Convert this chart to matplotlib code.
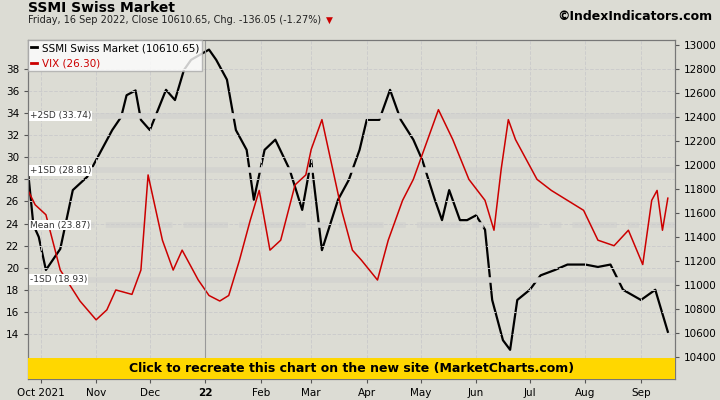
import numpy as np
import pandas as pd
import matplotlib
matplotlib.use("Agg")
import matplotlib.pyplot as plt
from matplotlib.patches import Rectangle
from matplotlib.lines import Line2D

ssmi_dates = ["2021-09-24","2021-09-27","2021-09-30","2021-10-04","2021-10-12","2021-10-19","2021-10-27",
    "2021-11-01","2021-11-10","2021-11-15","2021-11-18","2021-11-23","2021-11-26","2021-12-01","2021-12-10",
    "2021-12-15","2021-12-20","2021-12-24","2022-01-03","2022-01-07","2022-01-13","2022-01-18","2022-01-24",
    "2022-01-28","2022-02-03","2022-02-09","2022-02-17","2022-02-24","2022-03-01","2022-03-07","2022-03-16",
    "2022-03-22","2022-03-28","2022-04-01","2022-04-08","2022-04-14","2022-04-20","2022-04-27","2022-05-02",
    "2022-05-09","2022-05-13","2022-05-17","2022-05-23","2022-05-27","2022-06-01","2022-06-06","2022-06-10",
    "2022-06-16","2022-06-20","2022-06-24","2022-07-01","2022-07-07","2022-07-15","2022-07-22","2022-08-01",
    "2022-08-08","2022-08-15","2022-08-22","2022-09-01","2022-09-09","2022-09-16"]
ssmi_vals = [11950,11500,11400,11125,11300,11790,11900,12040,12290,12400,12580,12620,12375,12290,12625,
    12540,12790,12875,12960,12875,12710,12290,12125,11710,12125,12210,11960,11625,12040,11290,11710,
    11875,12125,12375,12375,12625,12375,12210,12040,11710,11540,11790,11540,11540,11580,11460,10875,
    10540,10460,10875,10960,11080,11125,11170,11170,11150,11170,10960,10875,10960,10610]

vix_dates = ["2021-09-24","2021-09-28","2021-10-04","2021-10-12","2021-10-23","2021-11-01","2021-11-07",
    "2021-11-12","2021-11-21","2021-11-26","2021-11-30","2021-12-08","2021-12-14","2021-12-19","2021-12-28",
    "2022-01-03","2022-01-09","2022-01-14","2022-01-20","2022-01-26","2022-01-31","2022-02-06","2022-02-12",
    "2022-02-20","2022-02-26","2022-03-01","2022-03-07","2022-03-18","2022-03-24","2022-03-29","2022-04-07",
    "2022-04-13","2022-04-21","2022-04-27","2022-05-05","2022-05-11","2022-05-19","2022-05-28","2022-06-06",
    "2022-06-11","2022-06-15","2022-06-19","2022-06-23","2022-06-29","2022-07-05","2022-07-13","2022-07-22",
    "2022-07-31","2022-08-08","2022-08-17","2022-08-25","2022-09-02","2022-09-07","2022-09-10","2022-09-13",
    "2022-09-16"]
vix_vals = [27.0,25.7,24.8,19.8,17.0,15.3,16.2,18.0,17.6,19.8,28.4,22.5,19.8,21.6,18.9,17.5,17.0,17.5,
    20.7,24.3,27.0,21.6,22.5,27.5,28.4,30.7,33.4,25.2,21.6,20.7,18.9,22.5,26.1,28.0,31.6,34.3,31.6,28.0,
    26.1,23.4,28.9,33.4,31.6,29.8,28.0,27.0,26.1,25.2,22.5,22.0,23.4,20.3,26.1,27.0,23.4,26.3]

sd_levels = [33.74, 28.81, 23.87, 18.93]
sd_labels = ["+2SD (33.74)", "+1SD (28.81)", "Mean (23.87)", "-1SD (18.93)"]

W, H = 720, 400
fig = plt.figure(figsize=(W/100, H/100), dpi=100, facecolor="#dcdcd4")
ax = fig.add_axes([28/W, 1-379/H, 647/W, 339/H])
ax2 = ax.twinx()
ax.set_zorder(ax2.get_zorder()+1)
ax.patch.set_visible(False)
ax2.set_facecolor("white")

sd = pd.to_datetime(ssmi_dates)
vd = pd.to_datetime(vix_dates)
ax2.plot(sd, ssmi_vals, color="black", lw=1.6)
ax.plot(vd, vix_vals, color="#cc0000", lw=1.1)

for lv, lb in zip(sd_levels, sd_labels):
    ax.axhline(lv, color="#d4d4d0", lw=4, ls=(0, (8, 2, 2, 2)) if lb.startswith("Mean") else "-", zorder=1)
    ax.text(0.003, lv, lb, transform=ax.get_yaxis_transform(), fontsize=6.5, va="center",
            color="#333333", bbox=dict(fc="white", ec="none", pad=0.5), zorder=2)

x0, x1 = pd.Timestamp("2021-09-24"), pd.Timestamp("2022-09-20")
ax.set_xlim(x0, x1)
ax.set_ylim(9.95, 40.6)
ax.set_yticks(range(14, 39, 2))
ax2.set_ylim(10217, 13040)
ax2.set_yticks(range(10400, 13001, 200))
ax.yaxis.tick_left()
ticks = pd.date_range("2021-10-01", "2022-09-01", freq="MS")
ax.set_xticks(ticks)
labs = [("Oct 2021" if t.month == 10 else ("22" if t.month == 1 else t.strftime("%b"))) for t in ticks]
ax.set_xticklabels(labs)
ax.get_xticklabels()[3].set_fontweight("bold")
ax.grid(True, color="#cccccc", ls="--", lw=0.7)
ax.axvline(pd.Timestamp("2022-01-01"), color="#999999", lw=0.8)
for a in (ax, ax2):
    a.tick_params(labelsize=7.5, length=3, color="#555555")
    for s in a.spines.values():
        s.set_color("#777777")

ax.add_patch(Rectangle((0, 0), 1, 21/339, transform=ax.transAxes, fc="#ffd700", ec="none", zorder=5))
ax.text(0.5, 10.5/339, "Click to recreate this chart on the new site (MarketCharts.com)", transform=ax.transAxes,
        ha="center", va="center", fontsize=9, fontweight="bold", zorder=6)

leg = ax.legend([Line2D([], [], color="black", lw=2), Line2D([], [], color="#cc0000", lw=2)],
                ["SSMI Swiss Market (10610.65)", "VIX (26.30)"], loc="upper left", fontsize=7.5,
                frameon=True, fancybox=False, edgecolor="#aaaaaa", borderpad=0.3, handlelength=0.6,
                handletextpad=0.4, borderaxespad=0)
for t in leg.get_texts()[1:]:
    t.set_color("#cc0000")

fig.text(28/W, 1-8/H, "SSMI Swiss Market", fontsize=10, fontweight="bold", va="center")
fig.text(28/W, 1-20/H, "Friday, 16 Sep 2022, Close 10610.65, Chg. -136.05 (-1.27%)", fontsize=7, va="center", color="#222222")
fig.text(326/W, 1-20/H, "\u25bc", fontsize=6.5, va="center", color="#cc0000")
fig.text(712/W, 1-17/H, "\u00a9IndexIndicators.com", fontsize=9, fontweight="bold", va="center", ha="right")

fig.savefig("out.png", dpi=100, facecolor=fig.get_facecolor())
